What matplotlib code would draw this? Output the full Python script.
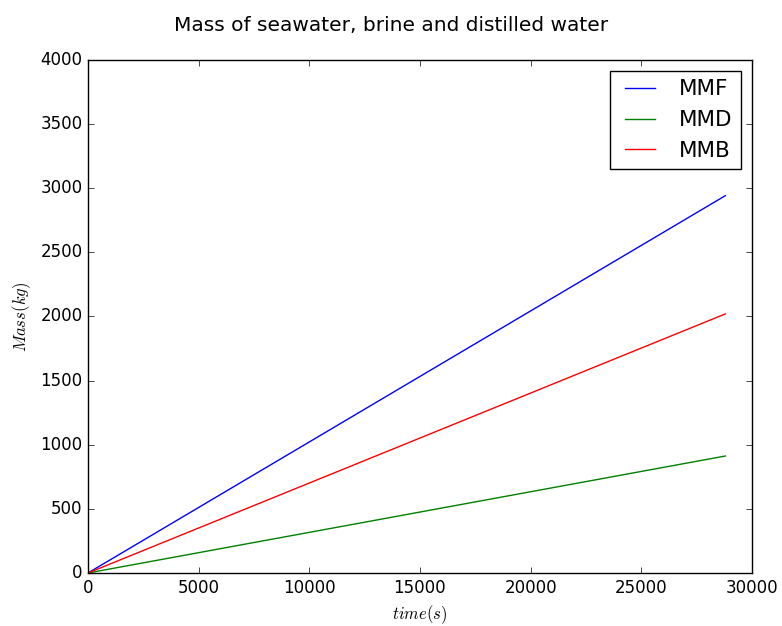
import numpy as np
import matplotlib
matplotlib.use("Agg")
import matplotlib.pyplot as plt

plt.style.use("classic")

t = [0, 28800]  # s
mmf = [0, 2942]  # kg
mmd = [0, 912]  # kg
mmb = [0, 2020]  # kg

fig = plt.figure(figsize=(7.82, 6.26), dpi=100, facecolor="white")
ax = fig.add_axes([0.1125, 0.0847, 0.849, 0.8195])
ax.plot(t, mmf, color="b", label="MMF")
ax.plot(t, mmd, color="g", label="MMD")
ax.plot(t, mmb, color="r", label="MMB")
ax.set_xlim(0, 30000)
ax.set_ylim(0, 4000)
ax.set_xlabel("$time(s)$", fontsize=12)
ax.set_ylabel("$Mass(kg)$", fontsize=12)
ax.tick_params(labelsize=12)
fig.suptitle("Mass of seawater, brine and distilled water", fontsize=14.5, y=0.975)
leg = ax.legend(loc="upper right", fontsize=15.5)
leg.get_frame().set_linewidth(1.0)
fig.savefig("out.png", dpi=100, facecolor="white")
